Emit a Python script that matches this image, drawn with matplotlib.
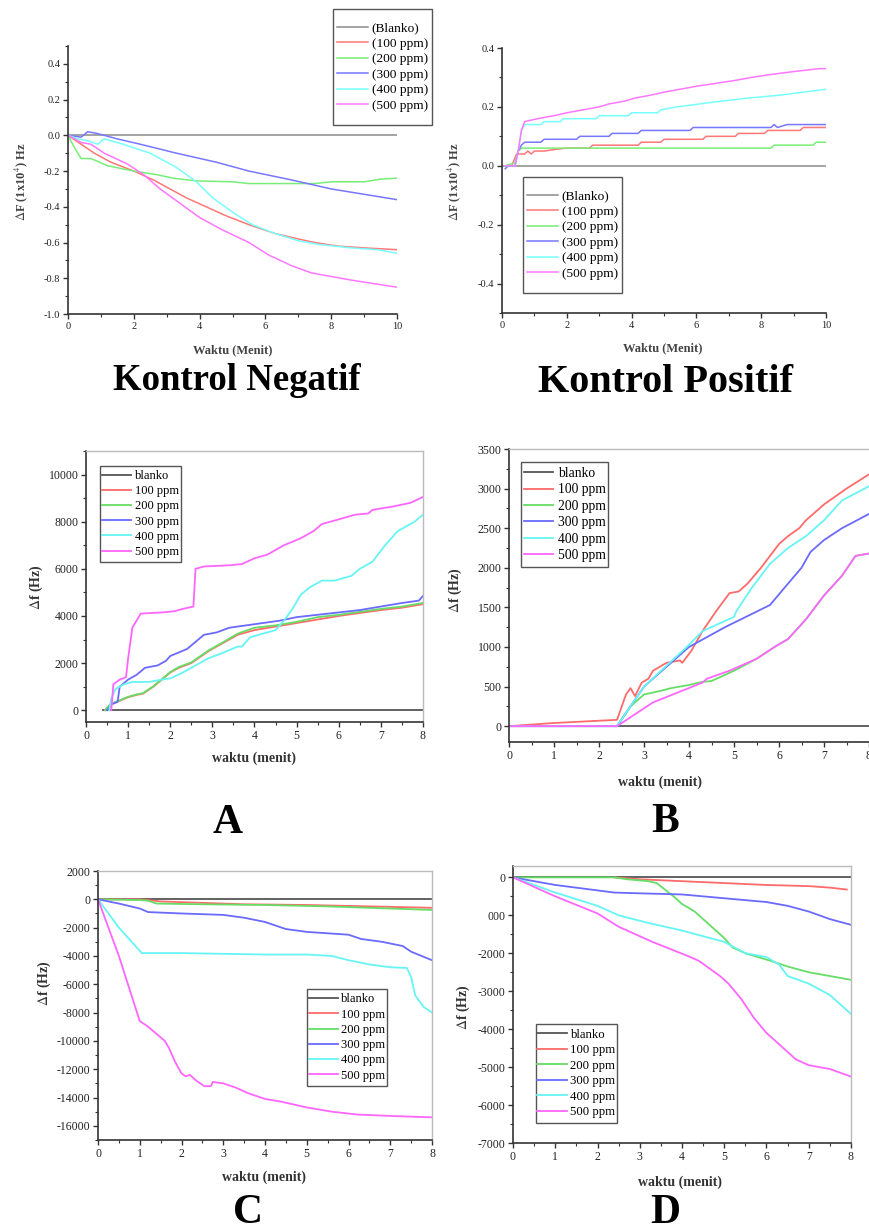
import matplotlib
matplotlib.use("Agg")
import matplotlib.pyplot as plt
from matplotlib.patches import Rectangle
from matplotlib.ticker import MultipleLocator, FixedLocator, FixedFormatter

plt.rcParams['font.family'] = ['Liberation Serif', 'DejaVu Serif']
plt.rcParams['mathtext.fontset'] = 'stix'
plt.rcParams['axes.unicode_minus'] = False

W, H = 869, 1231

# ---------------- data ----------------
labels_ctrl = ['(Blanko)', '(100 ppm)', '(200 ppm)', '(300 ppm)', '(400 ppm)', '(500 ppm)']
labels_abcd = ['blanko', '100 ppm', '200 ppm', '300 ppm', '400 ppm', '500 ppm']

# Kontrol Negatif (x: menit, y: 1x10^4 Hz)
neg_blanko_x = [0, 10]
neg_blanko_y = [0, 0]
neg_100_x = [0, 0.4, 0.8, 1.3, 2.0, 2.6, 3.1, 3.6, 4.2, 4.8, 5.5, 6.3, 7.0, 7.5, 8.2, 9.0, 10]
neg_100_y = [0, -0.05, -0.1, -0.15, -0.2, -0.25, -0.3, -0.35, -0.4, -0.45, -0.5, -0.55, -0.58, -0.6, -0.62, -0.63, -0.64]
neg_200_x = [0, 0.2, 0.4, 0.7, 1.2, 2.0, 2.7, 3.2, 3.9, 5.0, 5.5, 7.5, 8.0, 9.0, 9.5, 10]
neg_200_y = [0, -0.07, -0.13, -0.13, -0.17, -0.2, -0.22, -0.24, -0.255, -0.26, -0.27, -0.27, -0.26, -0.26, -0.245, -0.24]
neg_300_x = [0, 0.4, 0.6, 0.9, 1.1, 1.5, 2.2, 3.3, 4.5, 5.5, 6.8, 8.0, 10]
neg_300_y = [0, -0.01, 0.02, 0.01, 0.0, -0.02, -0.05, -0.1, -0.15, -0.2, -0.25, -0.3, -0.36]
neg_400_x = [0, 0.3, 0.6, 0.9, 1.1, 1.5, 2.5, 3.3, 3.9, 4.4, 5.0, 5.6, 6.3, 7.0, 7.6, 8.6, 9.4, 10]
neg_400_y = [0, -0.02, -0.03, -0.05, -0.02, -0.04, -0.1, -0.18, -0.26, -0.35, -0.43, -0.5, -0.55, -0.59, -0.61, -0.63, -0.64, -0.66]
neg_500_x = [0, 0.4, 0.7, 1.1, 1.8, 2.3, 2.8, 3.4, 4.0, 4.7, 5.5, 6.1, 6.8, 7.4, 8.0, 8.6, 9.3, 10]
neg_500_y = [0, -0.04, -0.05, -0.1, -0.16, -0.22, -0.3, -0.38, -0.46, -0.53, -0.6, -0.67, -0.73, -0.77, -0.79, -0.81, -0.83, -0.85]

# Kontrol Positif
pos_blanko_x = [0, 10]
pos_blanko_y = [0, 0]
pos_100_x = [0.1, 0.3, 0.45, 0.7, 0.8, 0.9, 1.0, 1.3, 1.6, 2.0, 2.7, 2.8, 4.2, 4.3, 4.9, 5.0, 6.2, 6.3, 7.2, 7.3, 8.1, 8.2, 9.2, 9.3, 10]
pos_100_y = [0, 0, 0.04, 0.04, 0.05, 0.04, 0.05, 0.05, 0.055, 0.06, 0.06, 0.07, 0.07, 0.08, 0.08, 0.09, 0.09, 0.1, 0.1, 0.11, 0.11, 0.12, 0.12, 0.13, 0.13]
pos_200_x = [0.1, 0.4, 0.5, 0.6, 8.3, 8.4, 9.6, 9.7, 10]
pos_200_y = [0, 0.01, 0.05, 0.06, 0.06, 0.07, 0.07, 0.08, 0.08]
pos_300_x = [0.1, 0.2, 0.4, 0.5, 0.6, 0.7, 1.2, 1.3, 2.3, 2.4, 3.3, 3.4, 4.2, 4.3, 5.8, 5.9, 8.3, 8.4, 8.5, 8.8, 10]
pos_300_y = [-0.01, 0, 0, 0.05, 0.07, 0.08, 0.08, 0.09, 0.09, 0.1, 0.1, 0.11, 0.11, 0.12, 0.12, 0.13, 0.13, 0.14, 0.13, 0.14, 0.14]
pos_400_x = [0.1, 0.4, 0.5, 0.6, 0.7, 1.2, 1.3, 1.8, 1.9, 2.9, 3.0, 3.9, 4.0, 4.8, 4.9, 5.4, 6.1, 6.8, 7.6, 8.6, 9.3, 10]
pos_400_y = [0, 0, 0.05, 0.12, 0.14, 0.14, 0.15, 0.15, 0.16, 0.16, 0.17, 0.17, 0.18, 0.18, 0.19, 0.2, 0.21, 0.22, 0.23, 0.24, 0.25, 0.26]
pos_500_x = [0.1, 0.4, 0.5, 0.6, 0.7, 1.1, 1.6, 2.0, 2.5, 3.0, 3.3, 3.8, 4.1, 4.6, 5.0, 5.5, 6.0, 6.6, 7.2, 7.7, 8.3, 9.0, 9.8, 10]
pos_500_y = [0, 0, 0.05, 0.12, 0.15, 0.16, 0.17, 0.18, 0.19, 0.2, 0.21, 0.22, 0.23, 0.24, 0.25, 0.26, 0.27, 0.28, 0.29, 0.3, 0.31, 0.32, 0.33, 0.33]

# Panel A (Hz)
a_blanko_x = [0.4, 8]
a_blanko_y = [0, 0]
a_100_x = [0.45, 0.55, 0.7, 0.8, 1.0, 1.2, 1.35, 1.6, 1.8, 2.0, 2.2, 2.5, 2.9, 3.2, 3.6, 4.0, 4.5, 5.0, 5.5, 6.0, 6.6, 7.0, 7.5, 8]
a_100_y = [0, 200, 350, 400, 550, 650, 700, 1000, 1300, 1600, 1800, 2000, 2500, 2800, 3200, 3400, 3550, 3700, 3850, 4000, 4150, 4250, 4350, 4500]
a_200_x = [0.45, 0.55, 0.7, 0.8, 1.0, 1.2, 1.35, 1.6, 1.8, 2.0, 2.2, 2.5, 2.9, 3.2, 3.6, 4.0, 4.5, 5.0, 5.5, 6.0, 6.6, 7.0, 7.5, 8]
a_200_y = [0, 200, 350, 420, 570, 670, 720, 1020, 1320, 1620, 1830, 2030, 2530, 2830, 3250, 3500, 3600, 3750, 3950, 4050, 4200, 4300, 4400, 4550]
a_300_x = [0.5, 0.6, 0.75, 0.8, 1.0, 1.2, 1.4, 1.7, 1.9, 2.0, 2.4, 2.6, 2.8, 3.1, 3.4, 3.8, 4.2, 4.6, 5.0, 5.5, 6.0, 6.5, 7.0, 7.5, 7.9, 8]
a_300_y = [0, 250, 350, 1000, 1300, 1500, 1800, 1900, 2100, 2300, 2600, 2900, 3200, 3300, 3500, 3600, 3700, 3800, 3950, 4050, 4150, 4250, 4400, 4550, 4650, 4850]
a_400_x = [0.55, 0.6, 0.7, 0.9, 1.1, 1.5, 1.8, 2.0, 2.3, 2.6, 2.9, 3.2, 3.6, 3.7, 3.9, 4.3, 4.5, 4.7, 4.9, 5.1, 5.3, 5.6, 5.9, 6.3, 6.5, 6.8, 7.1, 7.4, 7.8, 8]
a_400_y = [0, 500, 900, 1100, 1200, 1200, 1300, 1350, 1600, 1900, 2200, 2400, 2700, 2700, 3100, 3300, 3400, 3800, 4300, 4900, 5200, 5500, 5500, 5700, 6000, 6300, 7000, 7600, 8000, 8300]
a_500_x = [0.6, 0.65, 0.8, 0.95, 1.0, 1.1, 1.3, 1.8, 2.1, 2.3, 2.55, 2.6, 2.8, 3.4, 3.7, 4.0, 4.3, 4.7, 5.1, 5.4, 5.6, 6.0, 6.4, 6.7, 6.8, 7.3, 7.7, 8]
a_500_y = [0, 1100, 1300, 1400, 2200, 3500, 4100, 4150, 4200, 4300, 4400, 6000, 6100, 6150, 6200, 6450, 6600, 7000, 7300, 7600, 7900, 8100, 8300, 8350, 8500, 8650, 8800, 9050]

# Panel B (Hz)
b_blanko_x = [0, 8]
b_blanko_y = [0, 0]
b_100_x = [0, 1.0, 2.4, 2.6, 2.7, 2.8, 2.95, 3.1, 3.2, 3.5, 3.8, 3.85, 4.05, 4.3, 4.6, 4.9, 5.1, 5.3, 5.6, 6.0, 6.2, 6.45, 6.6, 7.0, 7.5, 8]
b_100_y = [0, 40, 80, 400, 480, 380, 550, 600, 700, 800, 830, 800, 950, 1200, 1450, 1680, 1700, 1800, 2000, 2300, 2400, 2500, 2600, 2800, 3000, 3180]
b_200_x = [0, 2.4, 2.7, 3.0, 3.4, 3.6, 4.0, 4.3, 4.5, 5.0, 5.5, 5.9, 6.2, 6.6, 7.0, 7.4, 7.7, 8]
b_200_y = [0, 0, 250, 400, 450, 480, 520, 560, 570, 700, 850, 1000, 1100, 1350, 1650, 1900, 2150, 2180]
b_300_x = [0, 2.4, 3.0, 4.0, 4.8, 5.8, 6.2, 6.5, 6.7, 7.0, 7.4, 8]
b_300_y = [0, 0, 500, 1000, 1250, 1530, 1800, 2000, 2200, 2350, 2500, 2680]
b_400_x = [0, 2.4, 3.0, 3.95, 4.3, 5.0, 5.05, 5.4, 5.8, 6.2, 6.6, 7.0, 7.4, 8]
b_400_y = [0, 0, 500, 1000, 1200, 1380, 1450, 1750, 2050, 2250, 2400, 2600, 2850, 3030]
b_500_x = [0, 2.4, 3.2, 4.3, 4.4, 4.9, 5.5, 5.9, 6.2, 6.6, 7.0, 7.4, 7.7, 8]
b_500_y = [0, 0, 300, 550, 600, 700, 850, 1000, 1100, 1350, 1650, 1900, 2150, 2180]

# Panel C (Hz)
c_blanko_x = [0, 8]
c_blanko_y = [0, 0]
c_100_x = [0, 1.0, 1.5, 2.5, 3.5, 5.0, 6.5, 8]
c_100_y = [0, 0, -150, -250, -350, -400, -500, -600]
c_200_x = [0, 1.0, 1.2, 1.4, 2.5, 4.0, 5.5, 6.5, 8]
c_200_y = [0, -50, -100, -300, -350, -400, -500, -600, -750]
c_300_x = [0, 0.5, 1.0, 1.2, 2.0, 3.0, 3.5, 4.0, 4.5, 5.0, 6.0, 6.3, 6.8, 7.3, 7.5, 8]
c_300_y = [0, -300, -650, -900, -1000, -1100, -1300, -1600, -2100, -2300, -2500, -2800, -3000, -3300, -3700, -4300]
c_400_x = [0, 0.5, 1.05, 2.0, 3.0, 4.0, 5.0, 5.6, 6.0, 6.5, 7.0, 7.4, 7.5, 7.6, 7.8, 8]
c_400_y = [0, -2000, -3800, -3800, -3850, -3900, -3900, -4000, -4300, -4600, -4800, -4850, -5500, -6800, -7600, -8000]
c_500_x = [0, 0.5, 1.0, 1.2, 1.4, 1.6, 1.7, 1.85, 2.0, 2.1, 2.2, 2.35, 2.55, 2.7, 2.75, 3.0, 3.3, 3.6, 4.0, 4.4, 5.0, 5.6, 6.2, 7.0, 8]
c_500_y = [0, -4000, -8600, -9000, -9500, -10000, -10500, -11500, -12300, -12500, -12400, -12800, -13200, -13200, -12900, -13000, -13300, -13700, -14100, -14300, -14700, -15000, -15200, -15300, -15400]

# Panel D (Hz)
d_blanko_x = [0, 8]
d_blanko_y = [0, 0]
d_100_x = [2.4, 3.0, 4.0, 5.0, 6.0, 7.0, 7.5, 7.9]
d_100_y = [0, -50, -100, -150, -200, -230, -270, -320]
d_200_x = [0, 2.4, 2.7, 3.2, 3.4, 3.8, 4.0, 4.3, 4.6, 4.8, 5.0, 5.2, 5.5, 5.8, 6.1, 6.5, 7.0, 7.5, 8]
d_200_y = [0, 0, -50, -100, -150, -500, -700, -900, -1200, -1400, -1600, -1850, -2000, -2100, -2200, -2350, -2500, -2600, -2700]
d_300_x = [0, 1.0, 1.7, 2.4, 3.0, 4.0, 4.5, 5.0, 5.5, 6.0, 6.5, 7.0, 7.5, 8]
d_300_y = [0, -200, -300, -400, -420, -450, -500, -550, -600, -650, -750, -900, -1100, -1250]
d_400_x = [0, 1.0, 2.0, 2.5, 3.2, 4.0, 5.0, 5.5, 6.0, 6.3, 6.5, 7.0, 7.5, 8]
d_400_y = [0, -400, -750, -1000, -1200, -1400, -1700, -2000, -2100, -2300, -2600, -2800, -3100, -3600]
d_500_x = [0, 1.0, 2.0, 2.5, 3.3, 4.2, 4.4, 4.9, 5.1, 5.4, 5.7, 6.0, 6.3, 6.7, 7.0, 7.5, 8]
d_500_y = [0, -500, -950, -1300, -1700, -2100, -2200, -2600, -2800, -3200, -3700, -4100, -4400, -4800, -4950, -5050, -5250]

colors_ctrl = ['#8a8a8a', '#ff7777', '#77ee77', '#7777ff', '#77ffff', '#ff77ff']
colors_abcd = ['#555555', '#ff6a6a', '#66dd66', '#6a6aff', '#66f4f4', '#ff66ff']

fig = plt.figure(figsize=(W / 100, H / 100), dpi=100)


def add_ax(l, r, t, b):
    return fig.add_axes([l / W, 1 - b / H, (r - l) / W, (b - t) / H])


def fx(x):
    return x / W


def fy(y):
    return 1 - y / H


def style(ax, full_box, fs):
    for s in ['left', 'bottom']:
        ax.spines[s].set_color('#333333')
        ax.spines[s].set_linewidth(1.2)
    if full_box:
        for s in ['top', 'right']:
            ax.spines[s].set_color('#bbbbbb')
            ax.spines[s].set_linewidth(1.0)
    else:
        ax.spines['top'].set_visible(False)
        ax.spines['right'].set_visible(False)
    ax.tick_params(which='major', direction='out', length=3.5, width=1, colors='#333333',
                   labelsize=fs, labelcolor='#222222', pad=2)
    ax.tick_params(which='minor', direction='out', length=2, width=0.8, colors='#333333')
    ax.set_facecolor('none')


def leg(handles, labels, box, fs, row_px, hl):
    l, r, t, b = box
    fig.add_artist(Rectangle((fx(l), fy(b)), (r - l) / W, (b - t) / H, transform=fig.transFigure,
                             facecolor='white', edgecolor='#555555', linewidth=1.0, zorder=5))
    fs_px = fs * 100 / 72
    spacing = max(row_px - fs_px, 0) / fs_px
    lg = fig.legend(handles, labels, loc='center', bbox_to_anchor=(fx((l + r) / 2), fy((t + b) / 2)),
                    bbox_transform=fig.transFigure, fontsize=fs, frameon=False,
                    borderaxespad=0, handlelength=hl, labelspacing=spacing, borderpad=0,
                    handletextpad=0.3)
    lg.set_zorder(6)
    return lg


# ---------------- Kontrol Negatif ----------------
ax1 = add_ax(68, 397, 46, 314)
neg = [(neg_blanko_x, neg_blanko_y), (neg_100_x, neg_100_y), (neg_200_x, neg_200_y),
       (neg_300_x, neg_300_y), (neg_400_x, neg_400_y), (neg_500_x, neg_500_y)]
h1 = []
for (xs, ys), c in zip(neg, colors_ctrl):
    h1 += ax1.plot(xs, ys, color=c, lw=1.1)
ax1.set_xlim(0, 10)
ax1.set_ylim(-1.0, 0.5)
ax1.xaxis.set_major_locator(MultipleLocator(2))
ax1.xaxis.set_minor_locator(MultipleLocator(1))
ax1.yaxis.set_major_locator(FixedLocator([-1.0, -0.8, -0.6, -0.4, -0.2, 0.0, 0.2, 0.4]))
ax1.yaxis.set_minor_locator(MultipleLocator(0.1))
ax1.yaxis.set_major_formatter(FixedFormatter(['-1.0', '-0.8', '-0.6', '-0.4', '-0.2', '0.0', '0.2', '0.4']))
style(ax1, False, 7.5)
leg(h1, labels_ctrl, (333, 432, 9, 125), 9.6, 16.5, 2.3)
fig.text(fx(21), fy(182), r'$\Delta$F (1x10$^{4}$) Hz', rotation=90, ha='center', va='center',
         fontsize=9, fontweight='bold', color='#444444')
fig.text(fx(233), fy(350), 'Waktu (Menit)', ha='center', va='center', fontsize=9,
         fontweight='bold', color='#444444')
fig.text(fx(237), fy(381), 'Kontrol Negatif', ha='center', va='center', fontsize=26.5,
         fontweight='bold', color='black')

# ---------------- Kontrol Positif ----------------
ax2 = add_ax(502, 826, 48, 313)
pos = [(pos_blanko_x, pos_blanko_y), (pos_100_x, pos_100_y), (pos_200_x, pos_200_y),
       (pos_300_x, pos_300_y), (pos_400_x, pos_400_y), (pos_500_x, pos_500_y)]
h2 = []
for (xs, ys), c in zip(pos, colors_ctrl):
    h2 += ax2.plot(xs, ys, color=c, lw=1.1)
ax2.set_xlim(0, 10)
ax2.set_ylim(-0.5, 0.4)
ax2.xaxis.set_major_locator(MultipleLocator(2))
ax2.xaxis.set_minor_locator(MultipleLocator(1))
ax2.yaxis.set_major_locator(FixedLocator([-0.4, -0.2, 0.0, 0.2, 0.4]))
ax2.yaxis.set_minor_locator(MultipleLocator(0.1))
ax2.yaxis.set_major_formatter(FixedFormatter(['-0.4', '-0.2', '0.0', '0.2', '0.4']))
style(ax2, False, 7.5)
leg(h2, labels_ctrl, (523, 622, 177, 293), 9.6, 16.5, 2.3)
fig.text(fx(454), fy(182), r'$\Delta$F (1x10$^{4}$) Hz', rotation=90, ha='center', va='center',
         fontsize=9, fontweight='bold', color='#444444')
fig.text(fx(663), fy(348), 'Waktu (Menit)', ha='center', va='center', fontsize=9,
         fontweight='bold', color='#444444')
fig.text(fx(666), fy(383), 'Kontrol Positif', ha='center', va='center', fontsize=29,
         fontweight='bold', color='black')

# ---------------- Panel A ----------------
axA = add_ax(86, 423, 451, 722)
serA = [(a_blanko_x, a_blanko_y), (a_100_x, a_100_y), (a_200_x, a_200_y),
        (a_300_x, a_300_y), (a_400_x, a_400_y), (a_500_x, a_500_y)]
hA = []
for (xs, ys), c in zip(serA, colors_abcd):
    hA += axA.plot(xs, ys, color=c, lw=1.3)
axA.set_xlim(0, 8)
axA.set_ylim(-500, 11000)
axA.xaxis.set_major_locator(MultipleLocator(1))
axA.xaxis.set_minor_locator(MultipleLocator(0.5))
axA.yaxis.set_major_locator(MultipleLocator(2000))
axA.yaxis.set_minor_locator(MultipleLocator(1000))
style(axA, True, 8.5)
leg(hA, labels_abcd, (100, 181, 466, 562), 9, 15.7, 2.3)
fig.text(fx(36), fy(587), r'$\Delta$f (Hz)', rotation=90, ha='center', va='center',
         fontsize=10, fontweight='bold', color='#333333')
fig.text(fx(254), fy(758), 'waktu (menit)', ha='center', va='center', fontsize=10,
         fontweight='bold', color='#333333')
fig.text(fx(228), fy(823), 'A', ha='center', va='center', fontsize=30, fontweight='bold')

# ---------------- Panel B ----------------
axB = add_ax(509, 869, 449, 742)
serB = [(b_blanko_x, b_blanko_y), (b_100_x, b_100_y), (b_200_x, b_200_y),
        (b_300_x, b_300_y), (b_400_x, b_400_y), (b_500_x, b_500_y)]
hB = []
for (xs, ys), c in zip(serB, colors_abcd):
    hB += axB.plot(xs, ys, color=c, lw=1.3)
axB.set_xlim(0, 8)
axB.set_ylim(-200, 3500)
axB.xaxis.set_major_locator(MultipleLocator(1))
axB.xaxis.set_minor_locator(MultipleLocator(0.5))
axB.yaxis.set_major_locator(MultipleLocator(500))
axB.yaxis.set_minor_locator(MultipleLocator(250))
style(axB, True, 8.5)
axB.spines['right'].set_visible(False)
leg(hB, labels_abcd, (521, 608, 462, 567), 9.8, 17, 2.2)
fig.text(fx(455), fy(590), r'$\Delta$f (Hz)', rotation=90, ha='center', va='center',
         fontsize=10, fontweight='bold', color='#333333')
fig.text(fx(660), fy(782), 'waktu (menit)', ha='center', va='center', fontsize=10,
         fontweight='bold', color='#333333')
fig.text(fx(665), fy(822), 'B', ha='center', va='center', fontsize=30, fontweight='bold')

# ---------------- Panel C ----------------
axC = add_ax(98, 432, 871, 1140)
serC = [(c_blanko_x, c_blanko_y), (c_100_x, c_100_y), (c_200_x, c_200_y),
        (c_300_x, c_300_y), (c_400_x, c_400_y), (c_500_x, c_500_y)]
hC = []
for (xs, ys), c in zip(serC, colors_abcd):
    hC += axC.plot(xs, ys, color=c, lw=1.3)
axC.set_xlim(0, 8)
axC.set_ylim(-17000, 2000)
axC.xaxis.set_major_locator(MultipleLocator(1))
axC.xaxis.set_minor_locator(MultipleLocator(0.5))
axC.yaxis.set_major_locator(MultipleLocator(2000))
axC.yaxis.set_minor_locator(MultipleLocator(1000))
style(axC, True, 8.5)
leg(hC, labels_abcd, (307, 387, 989, 1086), 9, 15.7, 2.3)
fig.text(fx(44), fy(983), r'$\Delta$f (Hz)', rotation=90, ha='center', va='center',
         fontsize=10, fontweight='bold', color='#333333')
fig.text(fx(264), fy(1177), 'waktu (menit)', ha='center', va='center', fontsize=10,
         fontweight='bold', color='#333333')
fig.text(fx(248), fy(1213), 'C', ha='center', va='center', fontsize=30, fontweight='bold')

# ---------------- Panel D ----------------
axD = add_ax(513, 851, 866, 1143)
serD = [(d_blanko_x, d_blanko_y), (d_100_x, d_100_y), (d_200_x, d_200_y),
        (d_300_x, d_300_y), (d_400_x, d_400_y), (d_500_x, d_500_y)]
hD = []
for (xs, ys), c in zip(serD, colors_abcd):
    hD += axD.plot(xs, ys, color=c, lw=1.3)
axD.set_xlim(0, 8)
axD.set_ylim(-7000, 300)
axD.xaxis.set_major_locator(MultipleLocator(1))
axD.xaxis.set_minor_locator(MultipleLocator(0.5))
d_ticks = [-7000, -6000, -5000, -4000, -3000, -2000, -1000, 0]
d_tick_labels = ['-7000', '-6000', '-5000', '-4000', '-3000', '-2000', '000', '0']
axD.yaxis.set_major_locator(FixedLocator(d_ticks))
axD.yaxis.set_major_formatter(FixedFormatter(d_tick_labels))
axD.yaxis.set_minor_locator(MultipleLocator(500))
style(axD, True, 8.5)
leg(hD, labels_abcd, (536, 617, 1024, 1123), 9.2, 16.3, 2.3)
fig.text(fx(463), fy(1007), r'$\Delta$f (Hz)', rotation=90, ha='center', va='center',
         fontsize=10, fontweight='bold', color='#333333')
fig.text(fx(680), fy(1182), 'waktu (menit)', ha='center', va='center', fontsize=10,
         fontweight='bold', color='#333333')
fig.text(fx(665), fy(1213), 'D', ha='center', va='center', fontsize=30, fontweight='bold')

fig.savefig('out.png', dpi=100)
